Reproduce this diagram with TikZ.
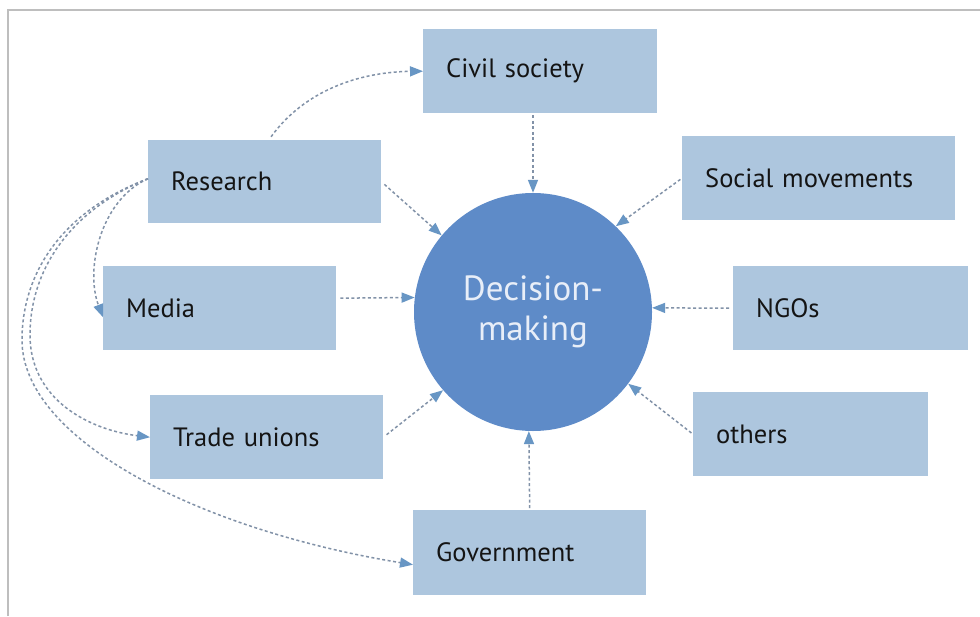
\documentclass[tikz,border=0pt]{standalone}
\usepackage{fontspec}
\setmainfont{PT Sans}
\usetikzlibrary{arrows.meta}
\definecolor{boxblue}{RGB}{173,198,222}
\definecolor{circblue}{RGB}{94,139,200}
\definecolor{circtext}{RGB}{232,238,248}
\definecolor{tipblue}{RGB}{104,150,196}
\definecolor{dashgray}{RGB}{130,146,168}
\definecolor{framegray}{RGB}{190,190,190}
\definecolor{txt}{RGB}{20,20,20}
\begin{document}
\begin{tikzpicture}[x=1pt,y=-1pt,
  actor/.style={fill=boxblue, anchor=north west, minimum height=84pt, inner xsep=23pt, inner ysep=0pt, align=left, font=\fontsize{26.5}{31}\selectfont, text=txt},
  link/.style={draw=dashgray, line width=1.5pt, dash pattern=on 3pt off 2.5pt, -{Triangle[length=13pt,width=10pt,color=tipblue]}},
  frame/.style={draw=framegray, line width=2pt}
  ]
\fill[white] (0,0) rectangle (980,616);
\useasboundingbox (0,0) rectangle (980,616);
\draw[frame] (8,616) -- (8,10) -- (980,10);

\node[actor, text width=188pt] (civil) at (423,29) {Civil society};
\node[actor, text width=187pt, minimum height=83pt] (research) at (148,140) {Research};
\node[actor, text width=227pt] (social) at (682,136) {Social movements};
\node[actor, text width=187pt] (media) at (103,266) {Media};
\node[actor, text width=189pt] (ngo) at (733,266) {NGOs};
\node[actor, text width=187pt] (trade) at (150,395) {Trade unions};
\node[actor, text width=189pt] (others) at (693,392) {others};
\node[actor, text width=187pt, minimum height=85pt] (gov) at (413,510) {Government};

\node[circle, fill=circblue, minimum size=238pt, inner sep=0pt, text=circtext, align=center, font=\fontsize{35}{40}\selectfont] (dm) at (533,312) {Decision-\\making};

% links into decision-making
\draw[link, shorten <=2pt] (dm.north |- civil.south) -- (dm.north);
\draw[link, shorten <=4pt] (research.east) -- (dm.140);
\draw[link, shorten <=2pt] (social.west) -- (dm.46);
\draw[link, shorten <=4pt] ([yshift=10pt]media.east) -- (dm.173);
\draw[link, shorten <=4pt] (ngo.west) -- (dm.2);
\draw[link, shorten <=4pt] (trade.east) -- (dm.221);
\draw[link, shorten <=2pt] (others.west) -- (dm.-37);
\draw[link, shorten <=2pt] (gov.north) -- (dm.268);

% links from research
\draw[link, shorten <=4pt] ([xshift=4pt]research.north) .. controls (305,90) and (360,72) .. (civil.west);
\draw[link] ([yshift=3pt]research.west) .. controls (100,200) and (85,270) .. ([yshift=-9pt]media.west);
\draw[link] ([yshift=3pt]research.west) .. controls (70,210) and (30,270) .. (30,335) .. controls (30,400) and (90,430) .. (trade.west);
\draw[link] ([yshift=3pt]research.west) .. controls (60,212) and (22,275) .. (22,340) .. controls (22,440) and (200,530) .. ([yshift=-12pt]gov.west);
\end{tikzpicture}
\end{document}
